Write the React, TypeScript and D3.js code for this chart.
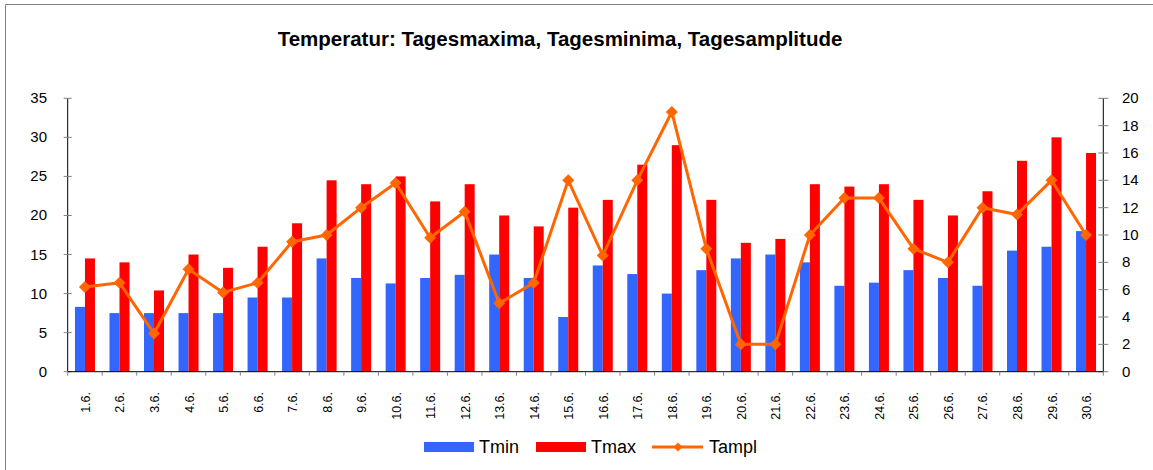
import React, { useEffect, useRef } from 'react';
import * as d3 from 'd3';

const days = [
  '1.6.', '2.6.', '3.6.', '4.6.', '5.6.', '6.6.', '7.6.', '8.6.', '9.6.', '10.6.',
  '11.6.', '12.6.', '13.6.', '14.6.', '15.6.', '16.6.', '17.6.', '18.6.', '19.6.', '20.6.',
  '21.6.', '22.6.', '23.6.', '24.6.', '25.6.', '26.6.', '27.6.', '28.6.', '29.6.', '30.6.',
];

const tmin = [
  8.3, 7.5, 7.5, 7.5, 7.5, 9.5, 9.5, 14.5, 12, 11.3,
  12, 12.4, 15, 12, 7, 13.6, 12.5, 10, 13, 14.5,
  15, 14, 11, 11.4, 13, 12, 11, 15.5, 16, 18,
];

const tmax = [
  14.5, 14, 10.4, 15, 13.3, 16, 19, 24.5, 24, 25,
  21.8, 24, 20, 18.6, 21, 22, 26.5, 29, 22, 16.5,
  17, 24, 23.7, 24, 22, 20, 23.1, 27, 30, 28,
];

const tampl = [
  6.2, 6.5, 2.8, 7.5, 5.8, 6.5, 9.5, 10, 12, 13.8,
  9.8, 11.7, 5, 6.5, 14, 8.5, 14, 19, 9, 2,
  2, 10, 12.7, 12.7, 9, 8, 12, 11.5, 14, 10,
];

const leftTicks = [0, 5, 10, 15, 20, 25, 30, 35];
const rightTicks = [0, 2, 4, 6, 8, 10, 12, 14, 16, 18, 20];

const W = 1153;
const H = 470;
const FONT = 'Arial, "Liberation Sans", sans-serif';
const BLUE = '#3366ff';
const RED = '#ff0000';
const ORANGE = '#ff6600';

export default function App() {
  const svgRef = useRef<SVGSVGElement>(null);

  useEffect(() => {
    if (!svgRef.current) return;
    const svg = d3.select(svgRef.current);
    svg.selectAll('*').remove();

    const left = 67.7, right = 1103.3, top = 98.3, bottom = 371.7;

    // frame
    svg.append('path')
      .attr('d', `M5.5,${H} V4.5 H${W}`)
      .attr('fill', 'none')
      .attr('stroke', '#808080')
      .attr('stroke-width', 1);

    svg.append('text')
      .attr('x', 560)
      .attr('y', 46)
      .attr('text-anchor', 'middle')
      .attr('font-family', FONT)
      .attr('font-weight', 'bold')
      .attr('font-size', 20.5)
      .text('Temperatur: Tagesmaxima, Tagesminima, Tagesamplitude');

    const x = d3.scaleBand<string>().domain(days).range([left, right]);
    const yL = d3.scaleLinear().domain([0, 35]).range([bottom, top]);
    const yR = d3.scaleLinear().domain([0, 20]).range([bottom, top]);

    const barW = 10;
    const g = svg.append('g');

    // Tmin bars
    g.selectAll('rect.tmin')
      .data(tmin)
      .enter()
      .append('rect')
      .attr('x', (d, i) => x(days[i])! + x.bandwidth() / 2 - barW)
      .attr('y', d => yL(d))
      .attr('width', barW)
      .attr('height', d => bottom - yL(d))
      .attr('fill', BLUE);

    // Tmax bars
    g.selectAll('rect.tmax')
      .data(tmax)
      .enter()
      .append('rect')
      .attr('x', (d, i) => x(days[i])! + x.bandwidth() / 2)
      .attr('y', d => yL(d))
      .attr('width', barW)
      .attr('height', d => bottom - yL(d))
      .attr('fill', RED);

    // left axis
    svg.append('line')
      .attr('x1', left).attr('x2', left)
      .attr('y1', top).attr('y2', bottom)
      .attr('stroke', '#000');
    leftTicks.forEach(t => {
      svg.append('line')
        .attr('x1', left - 4).attr('x2', left + 4)
        .attr('y1', yL(t)).attr('y2', yL(t))
        .attr('stroke', '#808080');
      svg.append('text')
        .attr('x', 47)
        .attr('y', yL(t) + 5)
        .attr('text-anchor', 'end')
        .attr('font-family', FONT)
        .attr('font-size', 15)
        .text(t);
    });

    // right axis
    svg.append('line')
      .attr('x1', right).attr('x2', right)
      .attr('y1', top).attr('y2', bottom)
      .attr('stroke', '#000');
    rightTicks.forEach(t => {
      svg.append('line')
        .attr('x1', right - 5).attr('x2', right + 5)
        .attr('y1', yR(t)).attr('y2', yR(t))
        .attr('stroke', '#808080');
      svg.append('text')
        .attr('x', 1122)
        .attr('y', yR(t) + 5)
        .attr('font-family', FONT)
        .attr('font-size', 15)
        .text(t);
    });

    // bottom axis
    svg.append('line')
      .attr('x1', left).attr('x2', right)
      .attr('y1', bottom).attr('y2', bottom)
      .attr('stroke', '#000');
    [...days.map(d => x(d)!), right].forEach(px => {
      svg.append('line')
        .attr('x1', px).attr('x2', px)
        .attr('y1', bottom).attr('y2', bottom + 4)
        .attr('stroke', '#808080');
    });
    days.forEach(d => {
      const cx = x(d)! + x.bandwidth() / 2 + 5;
      svg.append('text')
        .attr('transform', `translate(${cx},392) rotate(-90)`)
        .attr('text-anchor', 'end')
        .attr('font-family', FONT)
        .attr('font-size', 12.5)
        .text(d);
    });

    // Tampl line
    const line = d3.line<number>()
      .x((d, i) => x(days[i])! + x.bandwidth() / 2)
      .y(d => yR(d));
    g.append('path')
      .datum(tampl)
      .attr('d', line)
      .attr('fill', 'none')
      .attr('stroke', ORANGE)
      .attr('stroke-width', 3)
      .attr('stroke-linejoin', 'round');

    const diamond = d3.symbol().type(d3.symbolSquare).size(72);
    g.selectAll('path.mark')
      .data(tampl)
      .enter()
      .append('path')
      .attr('d', diamond()!)
      .attr('transform', (d, i) => `translate(${x(days[i])! + x.bandwidth() / 2},${yR(d)}) rotate(45)`)
      .attr('fill', ORANGE);

    // legend
    const leg = svg.append('g').attr('font-family', FONT).attr('font-size', 18);
    leg.append('rect').attr('x', 424).attr('y', 442).attr('width', 50).attr('height', 10).attr('fill', BLUE);
    leg.append('text').attr('x', 479).attr('y', 453).text('Tmin');
    leg.append('rect').attr('x', 536).attr('y', 442).attr('width', 50).attr('height', 10).attr('fill', RED);
    leg.append('text').attr('x', 591).attr('y', 453).text('Tmax');
    leg.append('line').attr('x1', 652).attr('x2', 703).attr('y1', 447).attr('y2', 447)
      .attr('stroke', ORANGE).attr('stroke-width', 3);
    leg.append('path')
      .attr('d', d3.symbol().type(d3.symbolSquare).size(40)()!)
      .attr('transform', 'translate(678,447) rotate(45)')
      .attr('fill', ORANGE);
    leg.append('text').attr('x', 709).attr('y', 453).text('Tampl');
  }, []);

  return (
    <svg
      ref={svgRef}
      width={W}
      height={H}
      style={{ position: 'absolute', left: 0, top: 0, background: '#fff' }}
    />
  );
}
